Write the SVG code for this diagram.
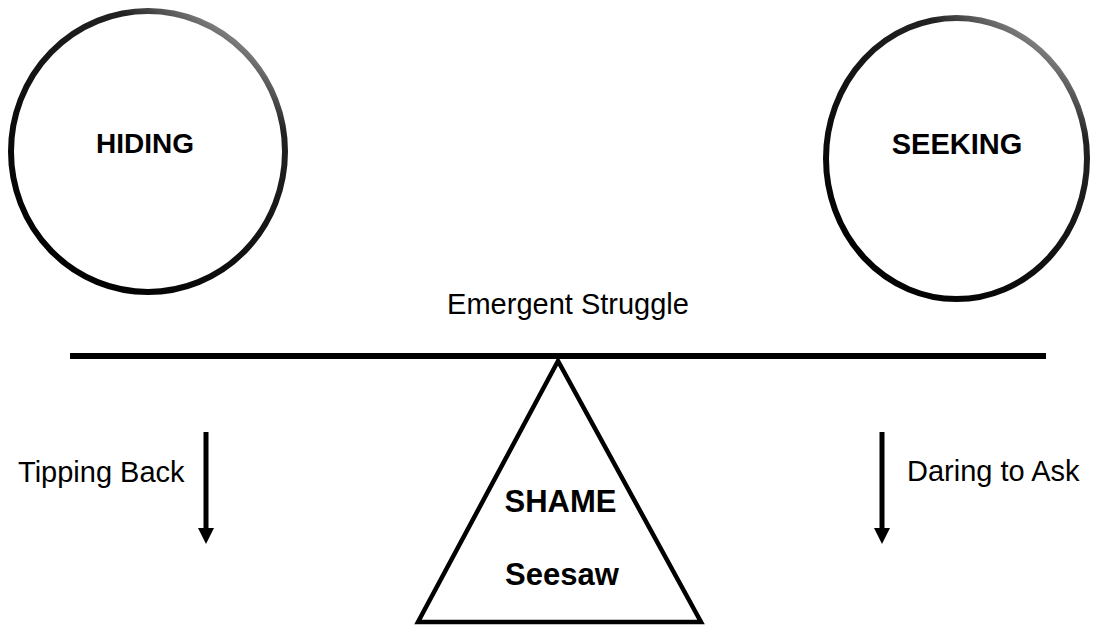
<svg xmlns="http://www.w3.org/2000/svg" width="1107" height="627" viewBox="0 0 1107 627">
  <style>
    .lbl { font-family: "Liberation Sans", Arial, sans-serif; fill: #000; }
    .bold { font-weight: bold; }
    .ring { fill: none; stroke: url(#brush); stroke-width: 6; }
    .line { stroke: #000; fill: none; }
  </style>
  <defs>
    <linearGradient id="brush" x1="0.85" y1="0.05" x2="0.2" y2="0.95">
      <stop offset="0" stop-color="#a0a0a0"/>
      <stop offset="0.2" stop-color="#222"/>
      <stop offset="1" stop-color="#000"/>
    </linearGradient>
    <marker id="arrow" viewBox="0 0 16 16" refX="1" refY="8" markerWidth="16" markerHeight="16" markerUnits="userSpaceOnUse" orient="auto">
      <path d="M0,0 L16,8 L0,16 Z" fill="#000"/>
    </marker>
  </defs>
  <rect width="1107" height="627" fill="#fff"/>

  <g id="hiding">
    <ellipse class="ring" cx="148" cy="151.5" rx="137" ry="140.5"/>
    <text class="lbl bold" x="145" y="153" font-size="28" text-anchor="middle">HIDING</text>
  </g>

  <g id="seeking">
    <ellipse class="ring" cx="956.5" cy="158.5" rx="130.5" ry="140.5"/>
    <text class="lbl bold" x="957" y="154" font-size="29" text-anchor="middle">SEEKING</text>
  </g>

  <g id="emergent-struggle">
    <text class="lbl" x="568" y="314" font-size="29" text-anchor="middle">Emergent Struggle</text>
  </g>

  <g id="beam">
    <line class="line" x1="70" y1="356" x2="1046" y2="356" stroke-width="6"/>
  </g>

  <g id="shame-seesaw">
    <polygon class="line" points="558,361 418,622 701,622" stroke-width="4.5" stroke-linejoin="miter" fill="#fff"/>
    <text class="lbl bold" x="560.5" y="512" font-size="31" text-anchor="middle">SHAME</text>
    <text class="lbl bold" x="562" y="585" font-size="31" text-anchor="middle">Seesaw</text>
  </g>

  <g id="tipping-back">
    <text class="lbl" x="18" y="482" font-size="29">Tipping Back</text>
  </g>

  <g id="daring-to-ask">
    <text class="lbl" x="907" y="481" font-size="29">Daring to Ask</text>
  </g>

  <g id="connectors">
    <line class="line" x1="206" y1="432" x2="206" y2="529" stroke-width="5" marker-end="url(#arrow)"/>
    <line class="line" x1="882" y1="432" x2="882" y2="529" stroke-width="5" marker-end="url(#arrow)"/>
  </g>
</svg>
